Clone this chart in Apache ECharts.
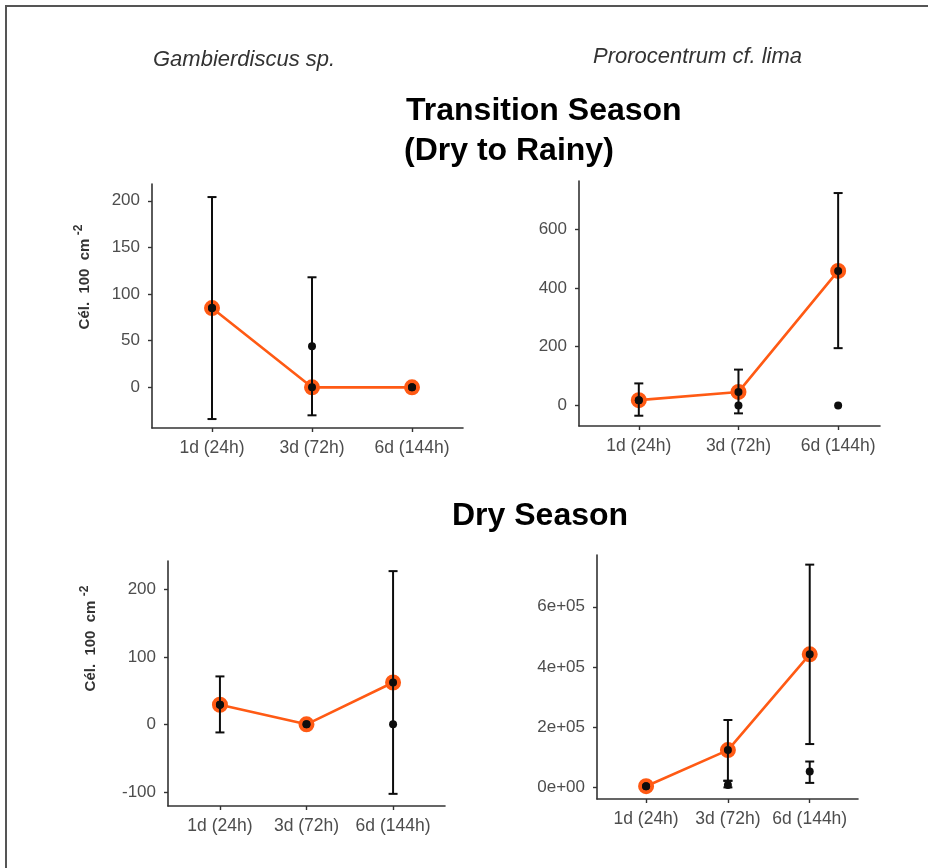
<!DOCTYPE html>
<html>
<head>
<meta charset="utf-8">
<script src="https://cdn.jsdelivr.net/npm/echarts@6/dist/echarts.min.js"></script>
<style>
  html, body { margin: 0; padding: 0; background: #fff; }
  #chart { width: 928px; height: 868px; }
</style>
</head>
<body>
<div id="chart"></div>
<script>
// Sampling times shared by every panel
const timePoints = ['1d (24h)', '3d (72h)', '6d (144h)'];

// Transition season (dry to rainy) — Gambierdiscus sp.
const transGambLine = [85, 0, 0];
const transGambDots = [85, 44, 0];
const transGambErrLow = [-34, -30, null];
const transGambErrHigh = [204, 118, null];
const transGambTicks = [0, 50, 100, 150, 200];

// Transition season (dry to rainy) — Prorocentrum cf. lima
const transProLine = [18, 46, 458];
const transProDots = [18, 0, 0];
const transProErrLow = [-35, -27, 195];
const transProErrHigh = [75, 122, 723];
const transProTicks = [0, 200, 400, 600];

// Dry season — Gambierdiscus sp.
const dryGambLine = [29, 0, 62];
const dryGambDots = [29, 0, 0];
const dryGambErrLow = [-12, null, -103];
const dryGambErrHigh = [71, null, 227];
const dryGambTicks = [-100, 0, 100, 200];

// Dry season — Prorocentrum cf. lima
const dryProLine = [4000, 124000, 442000];
const dryProDots = [4000, 8000, 53000];
const dryProErrLow = [null, 22000, 144000];
const dryProErrHigh = [null, 224000, 740000];
const dryProDotErrLow = [null, 0, 15000];
const dryProDotErrHigh = [null, 22000, 86000];
const dryProTicks = [0, 200000, 400000, 600000];

const ORANGE = '#ff5a14';
const INK = '#0d0d0d';
const AXIS = '#333333';
const LABEL = '#4d4d4d';
const FONT = '"Liberation Sans", Arial, Helvetica, sans-serif';

function sci(v) {
  const parts = v.toExponential(0).split('e');
  const e = +parts[1];
  return parts[0] + 'e' + (e < 0 ? '-' : '+') + String(Math.abs(e)).padStart(2, '0');
}

function pairs(values) {
  return values.map((v, i) => [i + 1, v]);
}

function bars(lows, highs) {
  const out = [];
  lows.forEach((lo, i) => {
    if (lo !== null && highs[i] !== null) out.push([i + 1, lo, highs[i]]);
  });
  return out;
}

function errorBarItem(params, api) {
  const x = api.value(0);
  const pLo = api.coord([x, api.value(1)]);
  const pHi = api.coord([x, api.value(2)]);
  const half = 4.5;
  const style = { stroke: INK, lineWidth: 2 };
  return {
    type: 'group',
    children: [
      { type: 'line', shape: { x1: pLo[0], y1: pLo[1], x2: pHi[0], y2: pHi[1] }, style },
      { type: 'line', shape: { x1: pLo[0] - half, y1: pLo[1], x2: pLo[0] + half, y2: pLo[1] }, style },
      { type: 'line', shape: { x1: pHi[0] - half, y1: pHi[1], x2: pHi[0] + half, y2: pHi[1] }, style }
    ]
  };
}

// Panel geometry and scales
const panels = [
  { grid: { left: 152, top: 184, width: 311, height: 244 }, xMax: 3.51,
    yMin: -43.6, yMax: 218, ticks: transGambTicks, fmt: v => String(v),
    line: transGambLine, dots: transGambDots,
    errs: [bars(transGambErrLow, transGambErrHigh)] },
  { grid: { left: 579, top: 181, width: 301, height: 245 }, xMax: 3.42,
    yMin: -70, yMax: 764, ticks: transProTicks, fmt: v => String(v),
    line: transProLine, dots: transProDots,
    errs: [bars(transProErrLow, transProErrHigh)] },
  { grid: { left: 168, top: 561, width: 277, height: 245 }, xMax: 3.6,
    yMin: -121, yMax: 242, ticks: dryGambTicks, fmt: v => String(v),
    line: dryGambLine, dots: dryGambDots,
    errs: [bars(dryGambErrLow, dryGambErrHigh)] },
  { grid: { left: 597, top: 555, width: 261, height: 244 }, xMax: 3.59,
    yMin: -38500, yMax: 772000, ticks: dryProTicks, fmt: sci,
    line: dryProLine, dots: dryProDots,
    errs: [bars(dryProErrLow, dryProErrHigh), bars(dryProDotErrLow, dryProDotErrHigh)] }
];

const axisLine = { show: true, onZero: false, lineStyle: { color: AXIS, width: 1.6 } };
const axisTick = { show: true, length: 4, lineStyle: { color: AXIS, width: 1.4 } };

const option = {
  animation: false,
  backgroundColor: '#ffffff',
  grid: panels.map(p => Object.assign({ containLabel: false }, p.grid)),
  xAxis: panels.map((p, i) => ({
    type: 'value', gridIndex: i, min: 0.4, max: p.xMax,
    axisLine,
    axisTick: Object.assign({ customValues: [1, 2, 3] }, axisTick),
    splitLine: { show: false },
    axisLabel: {
      customValues: [1, 2, 3],
      formatter: v => timePoints[Math.round(v) - 1],
      color: LABEL, fontSize: 17.5, fontFamily: FONT, margin: 11
    }
  })),
  yAxis: panels.map((p, i) => ({
    type: 'value', gridIndex: i, min: p.yMin, max: p.yMax,
    axisLine,
    axisTick: Object.assign({ customValues: p.ticks }, axisTick),
    splitLine: { show: false },
    axisLabel: {
      customValues: p.ticks, formatter: p.fmt,
      color: LABEL, fontSize: 17, fontFamily: FONT, margin: 12
    }
  })),
  series: [],
  graphic: []
};

panels.forEach((p, i) => {
  option.series.push({
    type: 'line', xAxisIndex: i, yAxisIndex: i, z: 2,
    data: pairs(p.line),
    symbol: 'circle', symbolSize: 12,
    lineStyle: { color: ORANGE, width: 2.6 },
    itemStyle: { color: INK, borderColor: ORANGE, borderWidth: 4, opacity: 1 }
  });
  p.errs.forEach(set => {
    option.series.push({
      type: 'custom', xAxisIndex: i, yAxisIndex: i, z: 3,
      renderItem: errorBarItem,
      encode: { x: 0, y: [1, 2] },
      data: set
    });
  });
  option.series.push({
    type: 'scatter', xAxisIndex: i, yAxisIndex: i, z: 4,
    data: pairs(p.dots),
    symbol: 'circle', symbolSize: 8,
    itemStyle: { color: INK, opacity: 1 }
  });
});

const text = (x, y, str, extra) => ({
  type: 'text', x, y, silent: true,
  style: Object.assign({ text: str, fill: '#000', fontFamily: FONT, verticalAlign: 'middle' }, extra)
});

option.graphic = [
  // picture frame (top and left edges)
  { type: 'line', silent: true, shape: { x1: 6, y1: 6, x2: 6, y2: 868 }, style: { stroke: '#555', lineWidth: 2 } },
  { type: 'line', silent: true, shape: { x1: 5, y1: 6, x2: 928, y2: 6 }, style: { stroke: '#555', lineWidth: 2 } },

  text(153, 60, 'Gambierdiscus sp.', { fontSize: 22, fontStyle: 'italic', fill: '#333' }),
  text(593, 57, 'Prorocentrum cf. lima', { fontSize: 22, fontStyle: 'italic', fill: '#333' }),

  text(406, 111, 'Transition Season', { fontSize: 32, fontWeight: 'bold' }),
  text(404, 151, '(Dry to Rainy)', { fontSize: 32, fontWeight: 'bold' }),
  text(452, 516, 'Dry Season', { fontSize: 32, fontWeight: 'bold' }),

  // y-axis titles, reading bottom to top
  Object.assign(text(85, 284, 'Cél.  100  cm', { fontSize: 15, fontWeight: 'bold', fill: '#333', align: 'center' }), { rotation: Math.PI / 2 }),
  Object.assign(text(79, 230, '-2', { fontSize: 12, fontWeight: 'bold', fill: '#333', align: 'center' }), { rotation: Math.PI / 2 }),
  Object.assign(text(91, 646, 'Cél.  100  cm', { fontSize: 15, fontWeight: 'bold', fill: '#333', align: 'center' }), { rotation: Math.PI / 2 }),
  Object.assign(text(85, 591, '-2', { fontSize: 12, fontWeight: 'bold', fill: '#333', align: 'center' }), { rotation: Math.PI / 2 })
];

const chart = echarts.init(document.getElementById('chart'), null, { renderer: 'canvas' });
chart.setOption(option);
</script>
</body>
</html>
